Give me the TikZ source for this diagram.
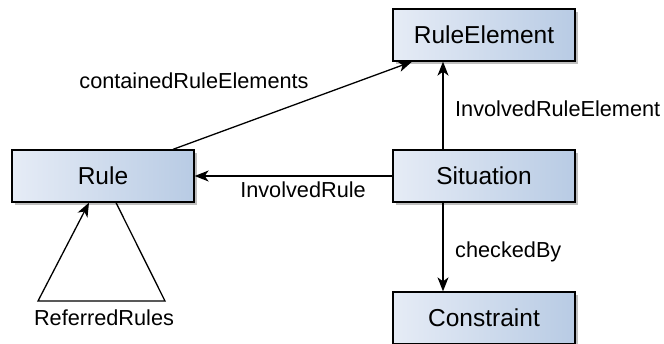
\documentclass[tikz,border=0pt]{standalone}
\usepackage{fontspec}
\setmainfont{Liberation Sans}
\usetikzlibrary{arrows.meta,shadows,calc}
\definecolor{boxleft}{HTML}{E6ECF6}
\definecolor{boxright}{HTML}{B8CBE4}
\tikzset{
  cls/.style={rectangle, draw=black, line width=1.3pt, minimum width=182pt, minimum height=52pt,
    left color=boxleft, right color=boxright, inner sep=0pt,
    font=\fontsize{24.5}{28}\selectfont,
    drop shadow={shadow xshift=3pt, shadow yshift=-3pt, opacity=0.25, fill=black}},
  lbl/.style={font=\fontsize{21.7}{26}\selectfont, inner sep=0pt},
  arr/.style={line width=1.3pt, -{Stealth[length=14pt,width=11pt,inset=4pt]}},
  ln/.style={line width=1.3pt}
}
\begin{document}
\begin{tikzpicture}[x=1pt,y=-1pt]
\useasboundingbox (0,0) rectangle (664,343);
\begin{scope}
\clip (0,0) rectangle (664,343);
\node[cls] (rule) at (103,176) {Rule};
\node[cls] (ruleelement) at (484,35) {RuleElement};
\node[cls] (situation) at (484,176) {Situation};
\node[cls] (constraint) at (484,318) {Constraint};
\end{scope}
\coordinate (lr) at (165,301);
\coordinate (ll) at (38,301);
\draw[arr] ([xshift=70pt]rule.north) -- ([xshift=-72pt]ruleelement.south);
\draw[arr] (situation.west) -- (rule.east);
\draw[arr] ([xshift=-41pt]situation.north) -- ([xshift=-41pt]ruleelement.south);
\draw[arr] ([xshift=-41pt]situation.south) -- ([xshift=-41pt]constraint.north);
\draw[arr, line join=miter] ([xshift=13pt]rule.south) -- (lr) -- (ll) -- ([xshift=-14pt]rule.south);
\node[lbl, anchor=base] (l1) at (194,88) {containedRuleElements};
\node[lbl, anchor=base west] (l2) at (455,116) {InvolvedRuleElement};
\node[lbl, anchor=base] (l3) at (303,197) {InvolvedRule};
\node[lbl, anchor=base west] (l4) at (455,257) {checkedBy};
\node[lbl, anchor=base] (l5) at (104,325) {ReferredRules};
\end{tikzpicture}
\end{document}
